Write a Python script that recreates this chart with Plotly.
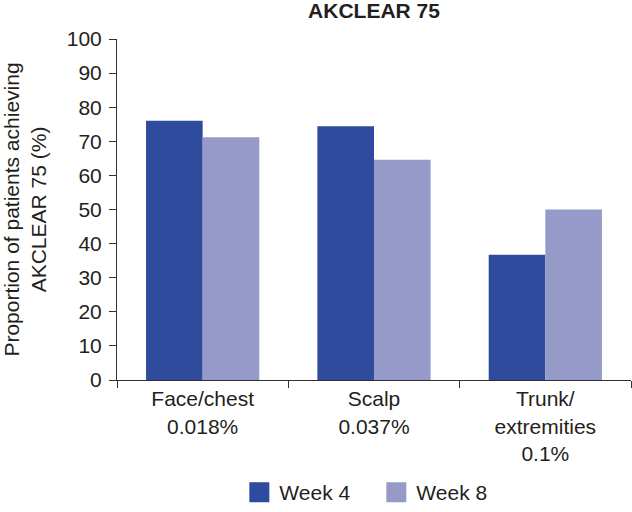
import plotly.graph_objects as go

categories = ["Face/chest<br>0.018%", "Scalp<br>0.037%", "Trunk/<br>extremities<br>0.1%"]
week4 = [76, 74.4, 36.7]
week8 = [71.2, 64.6, 50]
y_ticks = [0, 10, 20, 30, 40, 50, 60, 70, 80, 90, 100]

dark = "#2E4B9D"
light = "#959AC9"
txt = "#231F20"
font = "Liberation Sans, Arial, sans-serif"

fig = go.Figure()
fig.add_trace(go.Bar(x=categories, y=week4, name="Week 4", showlegend=False,
                     marker=dict(color=dark, line=dict(width=0))))
fig.add_trace(go.Bar(x=categories, y=week8, name="Week 8", showlegend=False,
                     marker=dict(color=light, line=dict(width=0))))
# legend proxies (bigger square swatches)
fig.add_trace(go.Scatter(x=[None], y=[None], mode="markers", name="Week 4",
                         marker=dict(symbol="square", size=16, color=dark,
                                     line=dict(width=4, color=dark))))
fig.add_trace(go.Scatter(x=[None], y=[None], mode="markers", name="Week 8",
                         marker=dict(symbol="square", size=16, color=light,
                                     line=dict(width=4, color=light))))

fig.update_layout(
    width=632, height=512,
    margin=dict(l=117, r=1, t=39, b=132, autoexpand=False),
    plot_bgcolor="white", paper_bgcolor="white",
    barmode="group", bargap=0.339, bargroupgap=0,
    font=dict(family=font, size=21, color=txt),
    title=dict(text="<b>AKCLEAR 75</b>", x=0.5, xref="paper", xanchor="center",
               y=0.993, yref="container", yanchor="top",
               font=dict(family=font, size=21, color=txt)),
    legend=dict(orientation="h", x=0.238, xanchor="left", xref="paper", y=-0.33, yanchor="middle",
                font=dict(family=font, size=21, color=txt), itemwidth=30, tracegroupgap=0,
                entrywidth=92, entrywidthmode="pixels"),
    showlegend=True,
)
fig.update_xaxes(showline=True, linecolor="#333333", linewidth=1, ticks="outside", tickson="boundaries",
                 ticklen=7, tickcolor="#333333", showgrid=False, automargin=False,
                 tickfont=dict(family=font, size=21, color=txt))
fig.update_yaxes(range=[0, 100], tickvals=y_ticks, showline=True, linecolor="#333333", linewidth=1,
                 ticks="outside", ticklen=7, tickcolor="#333333", showgrid=False, zeroline=False,
                 automargin=False, ticklabelstandoff=3,
                 tickfont=dict(family=font, size=21, color=txt),
                 title=dict(text="Proportion of patients achieving<br>AKCLEAR 75 (%)",
                            font=dict(family=font, size=21, color=txt), standoff=14))

fig.write_html("out.html", config={"displayModeBar": False},
               post_script="document.body.style.margin='0';document.body.style.overflow='hidden';")
